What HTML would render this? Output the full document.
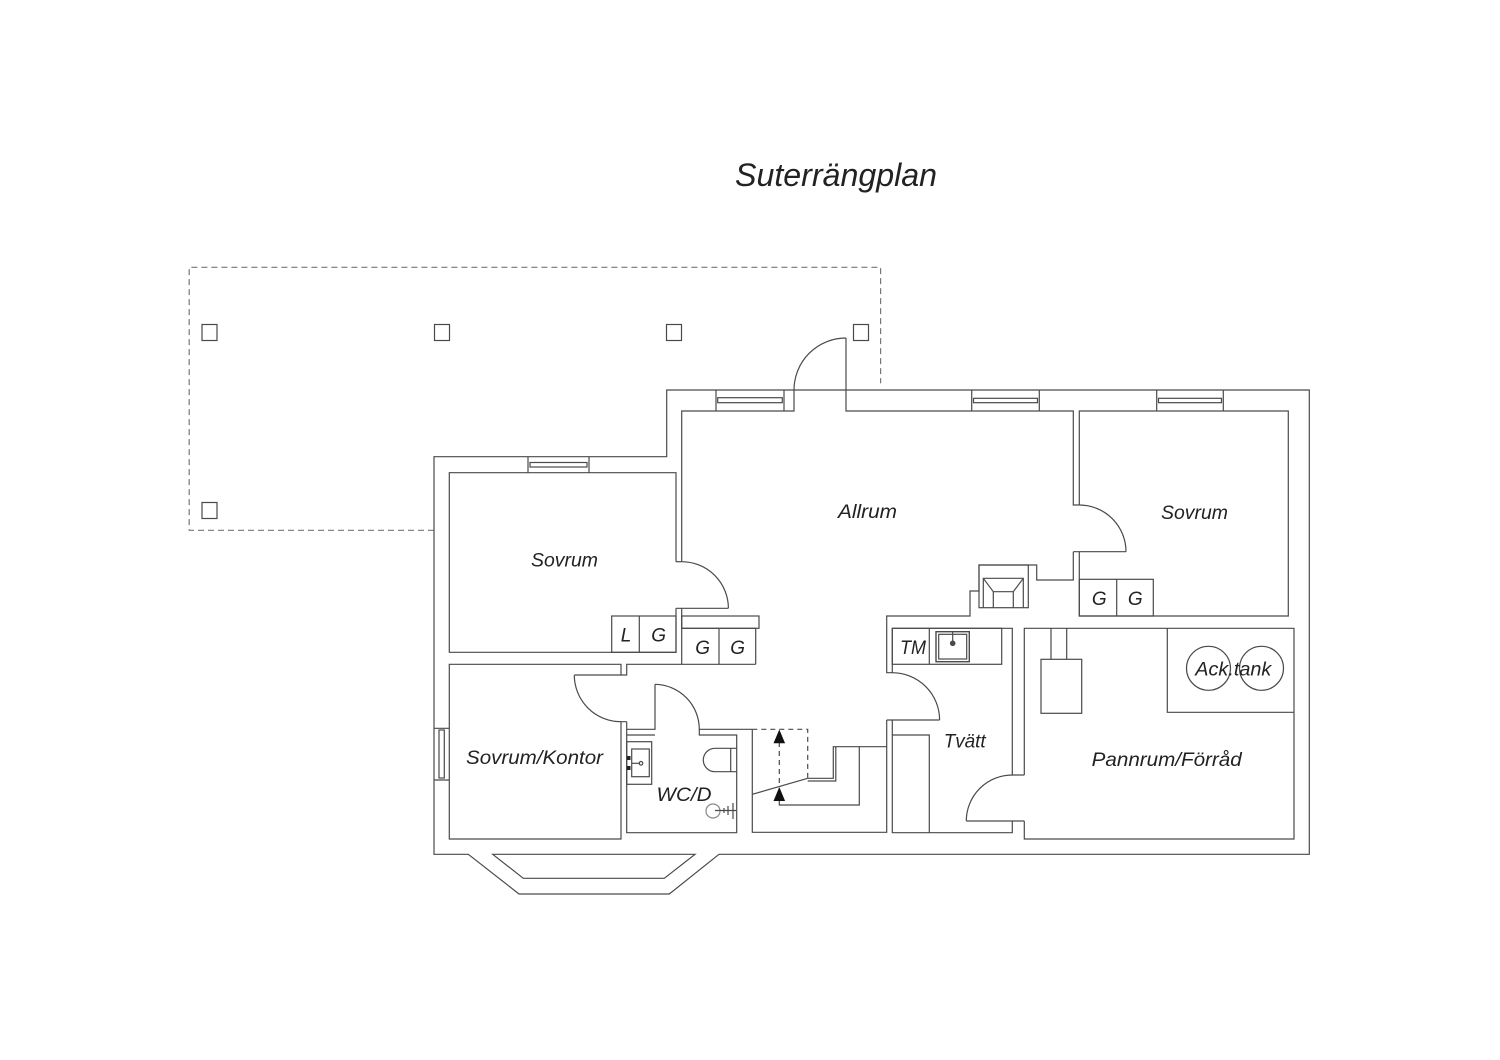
<!DOCTYPE html>
<html>
<head>
<meta charset="utf-8">
<style>
html,body{margin:0;padding:0;background:#fff;}
svg{display:block;}
text{font-family:"Liberation Sans",sans-serif;font-style:italic;fill:#222;}
</style>
</head>
<body>
<svg width="1500" height="1060" viewBox="0 0 1500 1060" xmlns="http://www.w3.org/2000/svg">
<rect width="1500" height="1060" fill="#fff"/>

<!-- Title -->
<text x="836" y="186" font-size="32" text-anchor="middle" textLength="202" lengthAdjust="spacingAndGlyphs">Suterrängplan</text>

<g fill="none" stroke="#4a4a4a" stroke-width="1.2">
  <!-- Dashed patio outline -->
  <path d="M434,530.3 H189.2 V267.3 H880.6 V383.3" stroke="#777" stroke-dasharray="6 4"/>
  <!-- posts -->
  <rect x="202" y="324.5" width="15" height="16"/>
  <rect x="434.5" y="324.5" width="15" height="16"/>
  <rect x="666.5" y="324.5" width="15" height="16"/>
  <rect x="853.5" y="324.5" width="15" height="16"/>
  <rect x="202" y="502.5" width="15" height="16"/>

  <!-- Outer boundary -->
  <path d="M468.3,854.3 H434 V456.7 H666.7 V390 H1309.3 V854.3 H719 L669.3,894 H519 Z"/>
  <!-- inner bay -->
  <path d="M492.7,854.3 L523.3,878.3 H664.3 L695,854.3 Z"/>

  <!-- Left Sovrum -->
  <path d="M676,561.7 V472.7 H449.3 V652.3 H676 V608.3"/>
  <path d="M676,561.7 H681.7"/>
  <path d="M676,608.3 H728.4"/>
  <path d="M681.7,561.7 A46.7,46.7 0 0 1 728.4,608.3"/>
  <!-- window left sovrum -->
  <path d="M528,456.7 V472.7 M589,456.7 V472.7"/>
  <rect x="530" y="462.5" width="57" height="4.5"/>

  <!-- Allrum walls -->
  <path d="M681.7,561.7 V411 H794 V390"/>
  <path d="M846,338 V411 H1073.3 V505 H1079.3"/>
  <path d="M846,338 A52,52 0 0 0 794,390"/>
  <!-- windows top -->
  <path d="M716,390 V411 M784,390 V411"/>
  <rect x="717.7" y="397.7" width="64.6" height="5"/>
  <path d="M971.7,390 V411 M1039.3,390 V411"/>
  <rect x="973.5" y="398.3" width="64" height="4.4"/>
  <path d="M1156.7,390 V411 M1223.3,390 V411"/>
  <rect x="1158.5" y="398.3" width="63" height="4.4"/>

  <!-- Allrum counter + GG -->
  <path d="M681.7,608.3 V664.3"/>
  <rect x="681.7" y="616" width="77.3" height="12.3"/>
  <path d="M681.7,628.3 H755.7 V664.3 M719,628.3 V664.3"/>
  <!-- L G in sovrum -->
  <rect x="611.7" y="616" width="64.3" height="36.3"/>
  <path d="M639.3,616 V652.3"/>

  <!-- Kontor -->
  <path d="M755.7,664.3 H626.7 V675 H621 V664.3 H449.3 V839 H621 V721.7 H626.7"/>
  <path d="M574.3,675 H621"/>
  <path d="M574.3,675 A46.7,46.7 0 0 0 621,721.7"/>
  <!-- Kontor window -->
  <path d="M434,728.3 H449.3 M434,780 H449.3"/>
  <rect x="439" y="730" width="5.3" height="48"/>

  <!-- WC -->
  <path d="M626.7,721.7 V832.7 H736.7 V735 H699.3 V729.3 H752.3"/>
  <path d="M626.7,729.3 H655 V684.3"/>
  <path d="M626.7,735 H655"/>
  <path d="M655,684.3 A45,45 0 0 1 699.3,729.3"/>
  <!-- sink -->
  <rect x="626.7" y="741.7" width="25" height="42.6"/>
  <rect x="631.7" y="749" width="17.6" height="27.7"/>
  <path d="M632,763.3 H640"/>
  <circle cx="641" cy="763.3" r="1.8"/>
  <!-- toilet -->
  <path d="M736.7,748.3 H715 A11.7,11.7 0 0 0 715,771.7 H736.7 M730.7,748.3 V771.7"/>
  <!-- shower -->
  <circle cx="713" cy="811" r="7" stroke="#888"/>
  <path d="M715,810.5 H736 M733,803 V819 M728,806 V815 M724,808 V813"/>

  <!-- Stair area -->
  <path d="M752.3,729.3 V832.3 H886.7 V720"/>
  <path d="M752.3,729.3 H807.7 V778.3" stroke-dasharray="5 4"/>
  <path d="M807.7,778.3 H833.3 V746.7 H886.7"/>
  <path d="M807.7,781 H835.8 V746.7"/>
  <path d="M859.3,746.7 V805 H779.3 V800"/>
  <path d="M779.3,742 V787" stroke-dasharray="5 4"/>
  <path d="M752.3,794.3 L807.7,778.3"/>

  <!-- Tvätt -->
  <path d="M1073.3,551.7 V580 H1036.7 V565 H979 V591 H970 V616 H886.7 V672.7 H892.3 V628.3 H1012.3 V775 H1024.3"/>
  <path d="M886.7,720 H939.6"/>
  <path d="M892.3,672.7 A47.3,47.3 0 0 1 939.6,720"/>
  <path d="M892.3,720 V832.7 H1012.3 V821"/>
  <path d="M892.3,735 H929.3 V832.7"/>
  <!-- TM counter -->
  <rect x="892.3" y="628.3" width="109.4" height="36"/>
  <path d="M929.3,628.3 V664.3"/>
  <rect x="936" y="631.7" width="33.3" height="30" stroke-width="1.4"/>
  <rect x="938.7" y="634.3" width="28" height="24.7"/>
  <path d="M952.7,631.7 V641"/>
  <circle cx="952.7" cy="643.3" r="2.2" fill="#4a4a4a"/>

  <!-- Fireplace -->
  <rect x="979" y="565" width="49.3" height="42.7"/>
  <path d="M983.3,607.7 V578.3 H1023.3 V607.7"/>
  <path d="M983.3,578.3 L993.3,591.7 H1013.3 L1023.3,578.3 M993.3,591.7 V607.7 M1013.3,591.7 V607.7"/>

  <!-- Pannrum -->
  <path d="M1024.3,775 V628.3 H1294 V839 H1024.3 V821"/>
  <path d="M966.3,821 H1024.3"/>
  <path d="M1012.3,775 A46,46 0 0 0 966.3,821"/>
  <path d="M1167.3,628.3 V712.3 H1294"/>
  <circle cx="1208.5" cy="668.3" r="22"/>
  <circle cx="1261.5" cy="668.3" r="22"/>
  <path d="M1051,628.3 V659.3 M1066.7,628.3 V659.3"/>
  <rect x="1041" y="659.3" width="40.7" height="54"/>

  <!-- Right Sovrum -->
  <path d="M1079.3,505 V411 H1288.3 V616 H1079.3 V551.7"/>
  <path d="M1073.3,551.7 H1126"/>
  <path d="M1079.3,505 A46.7,46.7 0 0 1 1126,551.7"/>
  <rect x="1079.3" y="579.3" width="74" height="36.7"/>
  <path d="M1116.7,579.3 V616"/>
</g>

<!-- stair arrows -->
<g fill="#111">
  <polygon points="779.3,729.5 773.5,743.3 785.1,743.3"/>
  <polygon points="779.3,787 773.5,801 785.1,801"/>
</g>
<!-- faucet blocks -->
<g fill="#222">
  <rect x="627" y="756" width="3.5" height="4"/>
  <rect x="627" y="766" width="3.5" height="4"/>
</g>

<!-- Labels -->
<g font-size="19">
  <text x="867.5" y="518" text-anchor="middle" textLength="59" lengthAdjust="spacingAndGlyphs">Allrum</text>
  <text x="564.5" y="566.5" text-anchor="middle" textLength="67" lengthAdjust="spacingAndGlyphs">Sovrum</text>
  <text x="1194.5" y="519" text-anchor="middle" textLength="67" lengthAdjust="spacingAndGlyphs">Sovrum</text>
  <text x="534.5" y="764" text-anchor="middle" textLength="137" lengthAdjust="spacingAndGlyphs">Sovrum/Kontor</text>
  <text x="684" y="801" text-anchor="middle" textLength="55" lengthAdjust="spacingAndGlyphs">WC/D</text>
  <text x="964.7" y="747.3" text-anchor="middle" textLength="42" lengthAdjust="spacingAndGlyphs">Tvätt</text>
  <text x="1166.7" y="766" text-anchor="middle" textLength="150" lengthAdjust="spacingAndGlyphs">Pannrum/Förråd</text>
  <text x="1233.3" y="675.3" text-anchor="middle" textLength="76" lengthAdjust="spacingAndGlyphs">Ack.tank</text>
  <text x="913" y="654" text-anchor="middle" textLength="26" lengthAdjust="spacingAndGlyphs">TM</text>
  <text x="626" y="641.7" text-anchor="middle">L</text>
  <text x="658.7" y="641.7" text-anchor="middle">G</text>
  <text x="702.7" y="654" text-anchor="middle">G</text>
  <text x="737.7" y="654" text-anchor="middle">G</text>
  <text x="1099.3" y="605" text-anchor="middle">G</text>
  <text x="1135.3" y="605" text-anchor="middle">G</text>
</g>
</svg>
</body>
</html>
